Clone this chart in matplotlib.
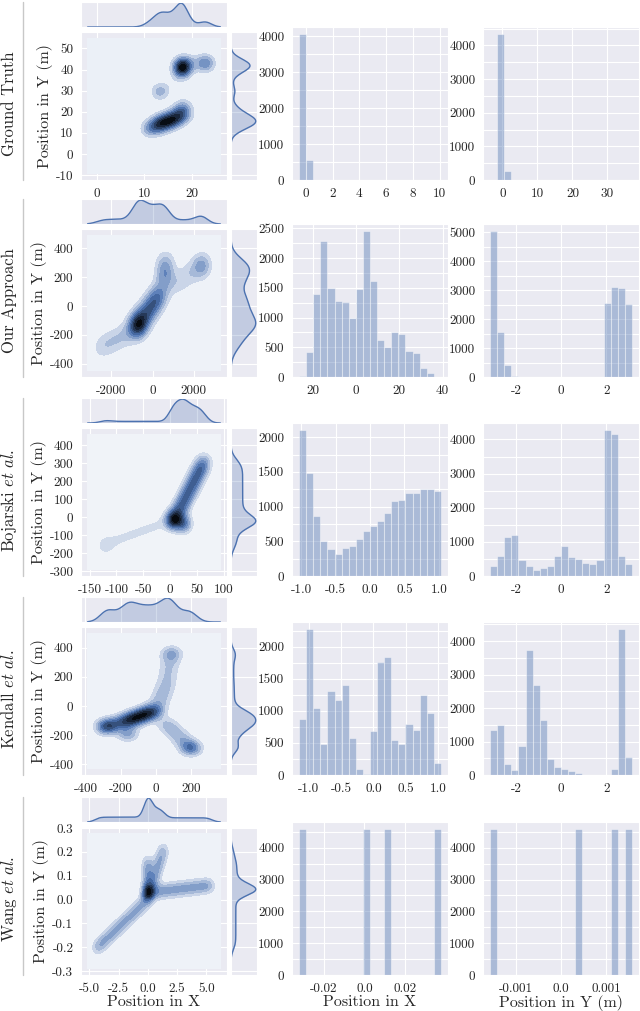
#Import needed packages
import colorsys
import numpy as np
import matplotlib
matplotlib.use("Agg")
import matplotlib.pyplot as plt
import seaborn as sns
from matplotlib.colors import LinearSegmentedColormap, to_rgb
from matplotlib.lines import Line2D
from matplotlib.ticker import FixedLocator, FixedFormatter, MultipleLocator

#DATA
methods = ["Ground Truth", "Our Approach", r"Bojarski $\mathit{et\ al.}$",
           r"Kendall $\mathit{et\ al.}$", r"Wang $\mathit{et\ al.}$"]

#KDE support (x range, y range)
kde_x_range = [(-1.9, 26.0), (-3157, 3299), (-153.6, 93.2), (-387, 366), (-5.15, 6.2)]
kde_y_range = [(-9.1, 54.6), (-445, 487), (-288, 458), (-427, 496), (-0.288, 0.276)]
#kernel bandwidth (x, y) per row
bandwidth = [(1.25, 2.7), (300, 58), (10, 34), (40, 35), (0.35, 0.022)]

#Trajectory pieces estimated from the pictures
#strokes: (x start, y start, x end, y end, mass), spots: (x, y, mass)
gt_strokes = [(17.8, 38, 18.2, 44, 3.0), (18.5, 43, 23, 43, 1.2),
              (13.5, 30, 17.5, 37, 0.4), (10.5, 11.5, 17, 17, 6.5),
              (17, 17, 18.5, 23, 3.0), (17, 17, 20, 18.5, 0.8)]
gt_spots = [(18, 41, 2.0), (23, 43, 1.6), (13.3, 29.5, 1.2), (13.5, 15, 1.2), (15.5, 16.5, 1.2)]
ours_strokes = [(-900, -170, 450, 100, 9.0), (-2700, -300, -900, -170, 3.0),
                (550, 150, 650, 330, 3.0), (900, 130, 2600, 300, 2.5)]
ours_spots = [(-700, -130, 2.0), (2400, 280, 1.2)]
bojarski_strokes = [(5, -20, 30, -40, 1.0), (10, 0, 65, 320, 12.0),
                    (-10, -30, -130, -160, 2.5)]
bojarski_spots = [(5, -15, 3.0), (25, -35, 1.5), (-120, -160, 0.3)]
kendall_strokes = [(-180, -110, 0, -30, 5.0), (-180, -110, -300, -140, 1.5),
                   (0, -30, 60, 150, 1.5), (60, 150, 90, 380, 1.5),
                   (40, -100, 200, -290, 2.0)]
kendall_spots = [(-280, -145, 1.0), (-160, -190, 0.8), (90, 360, 0.5), (200, -290, 1.0)]
wang_strokes = [(0, 0, 0, 0.17, 3.0), (0.3, 0.05, 1.4, 0.22, 3.0),
                (0.3, 0.03, 5.5, 0.06, 6.0), (0, 0, -4.5, -0.21, 6.0)]
wang_spots = [(0.05, 0.03, 1.5)]
all_strokes = [gt_strokes, ours_strokes, bojarski_strokes, kendall_strokes, wang_strokes]
all_spots = [gt_spots, ours_spots, bojarski_spots, kendall_spots, wang_spots]

#Histogram data range (first bin edge, last bin edge) and 20 bin counts
h1_range = [(-0.5, 10.1), (-26.2, 39.2), (-1.03, 1.03), (-1.15, 1.045), (-0.032, 0.0375)]
h1_counts = [
    [4050, 550, 0, 0, 0, 0, 0, 0, 0, 0, 0, 0, 0, 0, 0, 0, 0, 0, 0, 0],
    [20, 420, 1400, 2290, 1490, 1270, 1260, 1000, 1480, 2450, 1620, 620, 500, 760, 730, 430, 410, 150, 70, 0],
    [2100, 1480, 870, 500, 390, 320, 410, 430, 540, 650, 720, 790, 910, 1080, 1100, 1200, 1200, 1260, 1250, 1220],
    [880, 2270, 1040, 480, 1310, 1170, 1400, 580, 100, 10, 680, 1760, 1840, 550, 490, 790, 700, 1250, 970, 180],
    [4580, 0, 0, 0, 0, 0, 0, 0, 0, 4580, 0, 0, 4580, 0, 0, 0, 0, 0, 0, 4580]]
h2_range = [(-3.5, 37.0), (-3.14, 3.14), (-3.14, 3.14), (-3.14, 3.14), (-0.00157, 0.00157)]
h2_counts = [
    [0, 4330, 280, 0, 0, 0, 0, 0, 0, 0, 0, 0, 0, 0, 0, 0, 0, 0, 0, 0],
    [5030, 1570, 410, 50, 0, 0, 0, 0, 0, 0, 0, 0, 0, 0, 0, 15, 2550, 3090, 3060, 2530],
    [300, 600, 1150, 1200, 470, 290, 190, 220, 290, 600, 870, 560, 490, 390, 360, 480, 4270, 4170, 600, 350],
    [1330, 1500, 320, 150, 870, 3720, 2690, 1640, 480, 240, 180, 120, 60, 0, 0, 0, 0, 170, 4350, 540],
    [4580, 0, 0, 0, 0, 0, 0, 0, 0, 0, 0, 0, 4580, 0, 0, 0, 0, 4580, 0, 4580]]

#Tick values
joint_xticks = [[0, 10, 20], [-2000, 0, 2000], [-150, -100, -50, 0, 50, 100],
                [-400, -200, 0, 200], [-5, -2.5, 0, 2.5, 5]]
joint_yticks = [[-10, 0, 10, 20, 30, 40, 50], [-400, -200, 0, 200, 400],
                [-300, -200, -100, 0, 100, 200, 300, 400], [-400, -200, 0, 200, 400],
                [-0.3, -0.2, -0.1, 0.0, 0.1, 0.2, 0.3]]
h1_xticks = [[0, 2, 4, 6, 8, 10], [-20, 0, 20, 40], [-1, -0.5, 0, 0.5, 1],
             [-1, -0.5, 0, 0.5, 1], [-0.02, 0, 0.02]]
h1_ystep = [1000, 500, 500, 500, 1000]
h2_xticks = [[0, 10, 20, 30], [-2, 0, 2], [-2, 0, 2], [-2, 0, 2], [-0.001, 0, 0.001]]
h2_ystep = [1000, 1000, 1000, 1000, 1000]

#STYLE
sns.set_style("darkgrid")
plt.rcParams['font.family'] = ['cmr10', 'DejaVu Serif']
plt.rcParams['mathtext.fontset'] = 'cm'
plt.rcParams['axes.unicode_minus'] = False
base = '#4C72B0'

#Colormap from white through the base colour to black, like old seaborn jointplot
h, l, s = colorsys.rgb_to_hls(*to_rgb(base))
cmap = LinearSegmentedColormap.from_list(
    'joint', [colorsys.hls_to_rgb(h, lv, s) for lv in np.linspace(1, 0, 12)])

W, H = 640, 1011
fig = plt.figure(figsize=(W / 100, H / 100), dpi=100)

def box(x, y, w, h):
    #pixel box (top-left origin) -> figure fraction
    return [x / W, 1 - (y + h) / H, w / W, h / H]

def padded(r):
    d = 0.05 * (r[1] - r[0])
    return (r[0] - d, r[1] + d)

def tick_label(v, integer):
    if integer:
        return '%d' % v
    return repr(round(float(v), 6))

def set_ticks(axis, ticks, labels=None):
    integer = all(float(t).is_integer() for t in ticks)
    axis.set_major_locator(FixedLocator(ticks))
    if labels is None:
        labels = [tick_label(t, integer) for t in ticks]
    axis.set_major_formatter(FixedFormatter(labels))

def erf(x):
    #Abramowitz-Stegun approximation
    sgn = np.sign(x)
    x = np.abs(x)
    t = 1 / (1 + 0.3275911 * x)
    poly = ((((1.061405429 * t - 1.453152027) * t + 1.421413741) * t
             - 0.284496736) * t + 0.254829592) * t
    return sgn * (1 - poly * np.exp(-x * x))

def density(strokes, spots, bw, xr, yr):
    bx, by = bw
    xs = np.linspace(xr[0], xr[1], 150)
    ys = np.linspace(yr[0], yr[1], 150)
    xx, yy = np.meshgrid(xs, ys)
    z = np.zeros_like(xx)
    norm = 1 / (2 * np.pi * bx * by)
    for x0, y0, x1, y1, w in strokes:
        u = (xx - x0) / bx
        v = (yy - y0) / by
        du, dv = (x1 - x0) / bx, (y1 - y0) / by
        L = np.hypot(du, dv)
        a = (u * du + v * dv) / L
        d = (v * du - u * dv) / L
        along = np.sqrt(np.pi / 2) * (erf(a / np.sqrt(2)) - erf((a - L) / np.sqrt(2))) / L
        z += w * norm * np.exp(-d * d / 2) * along
    for x0, y0, w in spots:
        u = (xx - x0) / bx
        v = (yy - y0) / by
        z += w * norm * np.exp(-(u * u + v * v) / 2)
    return xs, ys, xx, yy, z

tick_fs = 9.5
label_fs = 11.5
joint_tops = [32, 229, 428, 627, 827]

for i in range(5):
    top = joint_tops[i]
    ax_j = fig.add_axes(box(81, top, 146, 148))
    ax_t = fig.add_axes(box(81, top - 30, 146, 25), sharex=ax_j)
    ax_r = fig.add_axes(box(231, top, 26, 148), sharey=ax_j)

    xs, ys, xx, yy, z = density(all_strokes[i], all_spots[i], bandwidth[i],
                                kde_x_range[i], kde_y_range[i])
    ax_j.contourf(xx, yy, z, 10, cmap=cmap)
    ax_j.set_xlim(padded(kde_x_range[i]))
    ax_j.set_ylim(padded(kde_y_range[i]))
    set_ticks(ax_j.xaxis, joint_xticks[i])
    set_ticks(ax_j.yaxis, joint_yticks[i])
    ax_j.tick_params(labelsize=tick_fs, pad=2)
    ax_j.set_ylabel('Position in Y (m)', fontsize=label_fs, labelpad=2)

    #marginal densities
    mx = z.sum(axis=0) * (ys[1] - ys[0])
    my = z.sum(axis=1) * (xs[1] - xs[0])
    ax_t.plot(xs, mx, color=base, lw=1)
    ax_t.fill_between(xs, 0, mx, color=base, alpha=0.25, lw=0)
    ax_t.set_ylim(0, mx.max() * 1.05)
    ax_r.plot(my, ys, color=base, lw=1)
    ax_r.fill_betweenx(ys, 0, my, color=base, alpha=0.25, lw=0)
    ax_r.set_xlim(0, my.max() * 1.05)
    ax_t.grid(False, axis='y')
    ax_r.grid(False, axis='x')
    for m in (ax_t, ax_r):
        m.tick_params(labelbottom=False, labelleft=False, length=0)

    #histograms
    for k, (x0, rng, counts, xt, ystep) in enumerate([
            (292, h1_range[i], h1_counts[i], h1_xticks[i], h1_ystep[i]),
            (483, h2_range[i], h2_counts[i], h2_xticks[i], h2_ystep[i])]):
        ax_h = fig.add_axes(box(x0, top - 5, 156, 153))
        edges = np.linspace(rng[0], rng[1], len(counts) + 1)
        ax_h.bar(edges[:-1], counts, width=np.diff(edges), align='edge',
                 color=base, alpha=0.4, edgecolor='white', linewidth=0.8)
        labels = ['20', '0', '20', '40'] if (i == 1 and k == 0) else None
        set_ticks(ax_h.xaxis, xt, labels)
        ax_h.yaxis.set_major_locator(MultipleLocator(ystep))
        ax_h.yaxis.set_minor_locator(MultipleLocator(ystep / 2))
        ax_h.grid(True, which='minor', axis='y', color='white', lw=0.8)
        ax_h.tick_params(labelsize=tick_fs, pad=2)
        if i == 4:
            ax_h.set_xlabel('Position in X' if k == 0 else 'Position in Y (m)',
                            fontsize=label_fs, labelpad=0.5)

    if i == 4:
        ax_j.set_xlabel('Position in X', fontsize=label_fs, labelpad=0.5)

    #row label and separator line
    fig.text(9 / W, 1 - (top + 72) / H, methods[i], rotation=90,
             ha='center', va='center', fontsize=12)
    fig.add_artist(Line2D([23 / W, 23 / W], [1 - (top + 148) / H, 1 - (top - 30) / H],
                          transform=fig.transFigure, color='#c8c8c8', lw=1))

fig.savefig('out.png', dpi=100)
